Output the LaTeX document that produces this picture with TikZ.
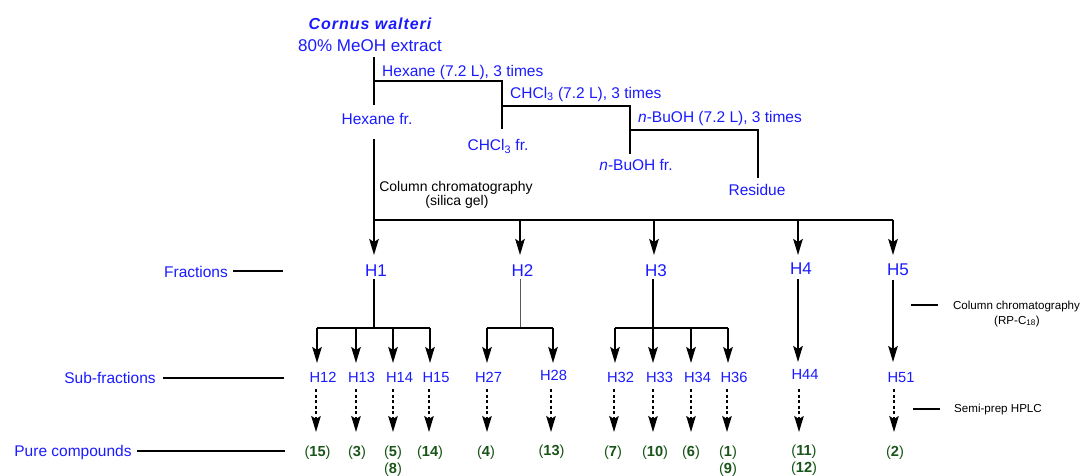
\documentclass[tikz,border=0pt]{standalone}
\usepackage{fontspec}
\setmainfont{Liberation Sans}
\newfontfamily\cornfont[LetterSpace=6]{Liberation Sans}
\usetikzlibrary{arrows.meta}
\definecolor{lblue}{RGB}{26,26,255}
\definecolor{cgreen}{RGB}{25,85,25}
\begin{document}
\begin{tikzpicture}[x=1pt,y=-1pt,
  ln/.style={line width=1.8pt,line join=miter},
  thinln/.style={line width=1pt,black!65},
  arr/.style={line width=1.8pt,-{Stealth[length=16pt,width=9.5pt,inset=3pt]}},
  darr/.style={line width=1.5pt,dash pattern=on 3.3pt off 2.2pt,-{Stealth[length=16pt,width=9.5pt,inset=3pt]}},
  bl/.style={text=lblue,inner sep=0pt,anchor=base},
  blw/.style={bl,anchor=base west},
  bk/.style={text=black,inner sep=0pt,anchor=base},
  cmp/.style={text=cgreen,inner sep=0pt,anchor=base,font=\fontsize{14.6}{17}\selectfont},
  fbig/.style={font=\fontsize{17}{20}\selectfont},
  fmid/.style={font=\fontsize{15.5}{18}\selectfont},
  fsub/.style={font=\fontsize{14.7}{17}\selectfont},
  fcc/.style={font=\fontsize{14}{16.5}\selectfont},
  fsm/.style={font=\fontsize{11.6}{14}\selectfont}]
\useasboundingbox (0,0) rectangle (1082,475);

% ---------- extraction ----------
\node[bl,font=\fontsize{16}{19}\cornfont\bfseries\itshape] (corn) at (370,29.5) {Cornus walteri};
\node[bl,fbig] (ext) at (370,51) {80\% MeOH extract};
\node[blw,fmid] (hexs) at (382,76) {Hexane (7.2 L), 3 times};
\node[blw,fmid] (chs) at (510,98) {CHCl\textsubscript{3} (7.2 L), 3 times};
\node[blw,fmid] (bus) at (638,122.5) {\textit{n}-BuOH (7.2 L), 3 times};
\node[bl,fmid] (hexfr) at (377,124) {Hexane fr.};
\node[bl,fmid] (chfr) at (498,150.5) {CHCl\textsubscript{3} fr.};
\node[bl,fmid] (bufr) at (636,170.5) {\textit{n}-BuOH fr.};
\node[bl,fmid] (res) at (757,195) {Residue};

\coordinate (e0) at (374,57);  \coordinate (e1) at (374,81);  \coordinate (e2) at (374,105);
\coordinate (c1) at (502,81);  \coordinate (c2) at (502,106); \coordinate (c3) at (502,129);
\coordinate (b1) at (630,106); \coordinate (b2) at (630,130); \coordinate (b3) at (630,154);
\coordinate (r1) at (758,130); \coordinate (r2) at (758,178);
\draw[ln] (e0) -- (e2);
\draw[ln] (e1) -- (c1) -- (c3);
\draw[ln] (c2) -- (b1) -- (b3);
\draw[ln] (b2) -- (r1) -- (r2);

% ---------- column chromatography ----------
\node[bk,fcc] (cc) at (456,191.5) {Column chromatography};
\node[bk,fcc] (sg) at (457,205.5) {(silica gel)};
\coordinate (h0) at (374,139);
\coordinate (bus1) at (374,220); \coordinate (bus2) at (520,220); \coordinate (bus3) at (654,220);
\coordinate (bus4) at (798,220); \coordinate (bus5) at (893,220);
\draw[ln] (h0) -- (bus1) -- (bus5);
\draw[arr] (bus1) -- (374,255);
\draw[arr] (bus2) -- (520,255);
\draw[arr] (bus3) -- (654,255);
\draw[arr] (bus4) -- (798,255);
\draw[arr] (bus5) -- (893,255);

% ---------- fractions ----------
\node[bl,fmid] (frl) at (196,277) {Fractions};
\coordinate (frA) at (233,271); \coordinate (frB) at (283,271);
\draw[ln] (frA) -- (frB);
\node[bl,fbig] (H1) at (376,276) {H1};
\node[bl,fbig] (H2) at (522.5,276) {H2};
\node[bl,fbig] (H3) at (656,276) {H3};
\node[bl,fbig] (H4) at (801,274) {H4};
\node[bl,fbig] (H5) at (898,275) {H5};

% H1 branches
\coordinate (g1) at (374,279); \coordinate (g1b) at (374,328);
\draw[ln] (g1) -- (g1b);
\draw[ln] (317,328) -- (430,328);
\foreach \x in {317,356,393,430} \draw[arr] (\x,328) -- (\x,363);
% H2 branches
\coordinate (g2) at (520,279); \coordinate (g2b) at (520,328);
\draw[thinln] (g2) -- (g2b);
\draw[ln] (487,328) -- (553,328);
\foreach \x in {487,553} \draw[arr] (\x,328) -- (\x,363);
% H3 branches
\coordinate (g3) at (653,279); \coordinate (g3b) at (653,328);
\draw[ln] (g3) -- (g3b);
\draw[ln] (615,328) -- (728,328);
\foreach \x in {615,653,691,728} \draw[arr] (\x,328) -- (\x,363);
% H4, H5
\draw[arr] (798,279) -- (798,362);
\draw[arr] (893,280) -- (893,362);

% right note
\coordinate (rcA) at (911,305); \coordinate (rcB) at (938,305);
\draw[ln] (rcA) -- (rcB);
\node[bk,fsm] (rc1) at (1016.5,309.5) {Column chromatography};
\node[bk,fsm] (rc2) at (1017,324) {(RP-C\textsubscript{18})};

% ---------- sub-fractions ----------
\node[bl,fmid] (sfl) at (110,383) {Sub-fractions};
\coordinate (sfA) at (163,378); \coordinate (sfB) at (284,378);
\draw[ln] (sfA) -- (sfB);
\node[bl,fsub] (H12) at (323,382) {H12};
\node[bl,fsub] (H13) at (361.5,382) {H13};
\node[bl,fsub] (H14) at (399.5,382) {H14};
\node[bl,fsub] (H15) at (436,382) {H15};
\node[bl,fsub] (H27) at (488.5,382.5) {H27};
\node[bl,fsub] (H28) at (553.5,380) {H28};
\node[bl,fsub] (H32) at (620.5,382.5) {H32};
\node[bl,fsub] (H33) at (659.5,382) {H33};
\node[bl,fsub] (H34) at (697.5,382) {H34};
\node[bl,fsub] (H36) at (734,382) {H36};
\node[bl,fsub] (H44) at (805,379) {H44};
\node[bl,fsub] (H51) at (901,382.5) {H51};

\foreach \x in {316,356,393,429,487,551,614,653,691,727,799,894}
  \draw[darr] (\x,389) -- (\x,432);

\coordinate (spA) at (913,409); \coordinate (spB) at (940,409);
\draw[ln] (spA) -- (spB);
\node[bk,fsm] (sp) at (998,412.5) {Semi-prep HPLC};

% ---------- pure compounds ----------
\node[bl,fmid] (pcl) at (73,456) {Pure compounds};
\coordinate (pcA) at (137,451); \coordinate (pcB) at (285,451);
\draw[ln] (pcA) -- (pcB);
\node[cmp] (c15) at (317.5,456) {(\textbf{15})};
\node[cmp] (c3) at (357,456) {(\textbf{3})};
\node[cmp] (c5) at (393,456) {(\textbf{5})};
\node[cmp] (c8) at (393,473) {(\textbf{8})};
\node[cmp] (c14) at (430,456) {(\textbf{14})};
\node[cmp] (c4) at (486,456) {(\textbf{4})};
\node[cmp] (c13) at (551.5,455.5) {(\textbf{13})};
\node[cmp] (c7) at (613,456) {(\textbf{7})};
\node[cmp] (c10) at (655,456) {(\textbf{10})};
\node[cmp] (c6) at (691,456) {(\textbf{6})};
\node[cmp] (c1) at (728,456.5) {(\textbf{1})};
\node[cmp] (c9) at (728,473) {(\textbf{9})};
\node[cmp] (c11) at (804,455.5) {(\textbf{11})};
\node[cmp] (c12) at (804,472.5) {(\textbf{12})};
\node[cmp] (c2) at (895,456) {(\textbf{2})};
\end{tikzpicture}
\end{document}
